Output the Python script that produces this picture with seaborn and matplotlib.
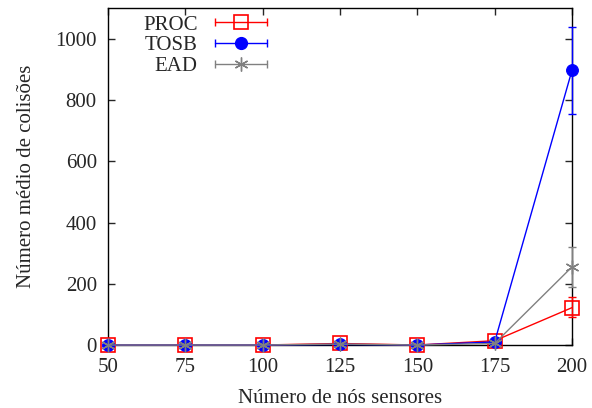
import matplotlib
matplotlib.use("Agg")
import matplotlib.pyplot as plt
import seaborn as sns
import pandas as pd
from matplotlib.lines import Line2D
from matplotlib.legend_handler import HandlerLine2D, HandlerTuple

nodes = [50, 75, 100, 125, 150, 175, 200]
proc = [0, 0, 0, 5, 0, 14, 122]
proc_lo = [0, 0, 0, 3, 0, 10, 91]
proc_hi = [0, 0, 0, 7, 0, 18, 156]
tosb = [0, 0, 0, 2, 0, 10, 897]
tosb_lo = [0, 0, 0, 1, 0, 7, 756]
tosb_hi = [0, 0, 0, 3, 0, 13, 1038]
ead = [0, 0, 0, 3, 0, 5, 255]
ead_lo = [0, 0, 0, 2, 0, 3, 189]
ead_hi = [0, 0, 0, 4, 0, 7, 320]
yticks = [0, 200, 400, 600, 800, 1000]

sns.set_style("ticks")
plt.rcParams['font.family'] = ['Liberation Serif', 'DejaVu Serif']

fig = plt.figure(figsize=(5.92, 4.08), dpi=100)
ax = fig.add_axes([0.1824, 0.1544, 0.9662 - 0.1824, 0.980 - 0.1544])

series = [
    ("PROC", proc, proc_lo, proc_hi, "#ff0000", "s", dict(markerfacecolor="none", markersize=9.5, markeredgewidth=1.2)),
    ("TOSB", tosb, tosb_lo, tosb_hi, "#0000ff", "o", dict(markerfacecolor="#0000ff", markersize=8.5)),
    ("EAD", ead, ead_lo, ead_hi, "#808080", (6, 2, 0), dict(markersize=10, markeredgewidth=1.0)),
]

handles = []
hmap = {}
for name, vals, lo, hi, col, mk, kw in series:
    df = pd.DataFrame({"x": nodes, "y": vals})
    err = [[v - l for v, l in zip(vals, lo)], [h - v for v, h in zip(vals, hi)]]
    eb = ax.errorbar(nodes, vals, yerr=err, fmt="none", ecolor=col, elinewidth=1.0,
                     capsize=3, capthick=1.0, zorder=4)
    for art in eb.lines[1] + eb.lines[2]:
        art.set_clip_on(False)
    sns.lineplot(data=df, x="x", y="y", ax=ax, color=col, linewidth=1.0,
                 marker=mk, markeredgecolor=col, legend=False, zorder=5,
                 clip_on=False, **kw)
    caps = Line2D([], [], color=col, linewidth=1.0, marker="|", markersize=6,
                  markeredgewidth=1.0)
    mark = Line2D([], [], color=col, linestyle="none", marker=mk,
                  markeredgecolor=col, **kw)
    hmap[caps] = HandlerLine2D(numpoints=2)
    hmap[mark] = HandlerLine2D(numpoints=1)
    handles.append(((caps, mark), name))

ax.set_xlim(50, 200)
ax.set_ylim(0, 1100)
ax.set_xticks(nodes)
ax.set_yticks(yticks)
ax.tick_params(direction="in", top=True, right=True, labelsize=15, length=5, width=1)
ax.tick_params(axis="x", pad=9)
ax.tick_params(axis="y", pad=8)
for s in ax.spines.values():
    s.set_linewidth(1.0)
    s.set_color("black")
    s.set_zorder(3)
ax.set_xlabel("Número de nós sensores", fontsize=15, labelpad=9)
ax.set_ylabel("Número médio de colisões", fontsize=15, labelpad=14)

hmap[tuple] = HandlerTuple(ndivide=1)
leg = ax.legend([h for h, _ in handles], [n for _, n in handles], loc="upper left",
                frameon=False, markerfirst=False, fontsize=15, handlelength=3.1,
                bbox_to_anchor=(0.035, 1.035), labelspacing=0.05, handletextpad=0.55,
                handler_map=hmap)
for t in leg.get_texts():
    t.set_ha("right")

fig.savefig("out.png", dpi=100)
